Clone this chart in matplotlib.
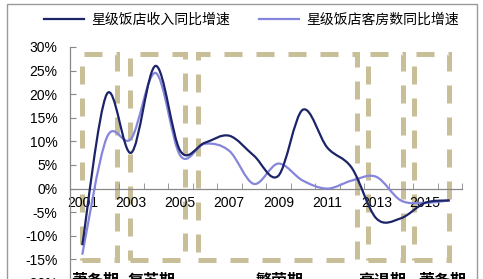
import numpy as np
import matplotlib
matplotlib.use('Agg')
import matplotlib.pyplot as plt
from matplotlib.path import Path
from matplotlib.patches import PathPatch, Rectangle

# data (yoy growth, %)
years = ['2001', '2002', '2003', '2004', '2005', '2006', '2007', '2008',
         '2009', '2010', '2011', '2012', '2013', '2014', '2015', '2016']
revenue = [-12, 20, 7.6, 26, 8, 9.7, 11.2, 7, 2.7, 16.7, 8.7, 4.4, -6.3, -6.3, -3, -2.5]
rooms = [-14, 10.8, 10.6, 24.5, 7, 9.5, 8, 1, 5.3, 1.7, 0, 1.7, 2.5, -2.5, -3, -2.5]
series_names = ['星级饭店收入同比增速', '星级饭店客房数同比增速']
phases = ['萧条期', '复苏期', '繁荣期', '衰退期', '萧条期']

# phase boxes: (x0, x1) in category units
boxes = [(0.0, 1.42), (1.95, 4.19), (4.72, 11.2), (11.66, 13.1), (13.54, 14.97)]
box_y = (-15.2, 28.5)
phase_x = [0.52, 2.83, 8.07, 12.25, 14.7]

cjk = ['Noto Sans CJK SC', 'DejaVu Sans']
plt.rcParams['font.family'] = ['Liberation Sans', 'DejaVu Sans']


def smooth_path(xs, ys):
    # catmull-rom -> cubic bezier, like Excel smoothed lines
    pts = np.column_stack([xs, ys]).astype(float)
    n = len(pts)
    verts = [pts[0]]
    codes = [Path.MOVETO]
    for i in range(n - 1):
        p0 = pts[i - 1] if i > 0 else pts[i]
        p1 = pts[i]
        p2 = pts[i + 1]
        p3 = pts[i + 2] if i + 2 < n else pts[i + 1]
        c1 = p1 + (p2 - p0) / 6.0
        c2 = p2 - (p3 - p1) / 6.0
        verts += [c1, c2, p2]
        codes += [Path.CURVE4] * 3
    return Path(verts, codes)


fig = plt.figure(figsize=(4.83, 2.79), dpi=100)
ax = fig.add_axes([70 / 483, 1 - 283 / 279, 392 / 483, 236 / 279])
ax.set_clip_on(False)

x = np.arange(len(years))
c_dark = '#1b2468'
c_light = '#8585dc'

# phase boxes
for x0, x1 in boxes:
    r = Rectangle((x0, box_y[0]), x1 - x0, box_y[1] - box_y[0], fill=False,
                  edgecolor='#c8bf99', lw=3.6, linestyle=(0, (3.6, 2.8)), zorder=1)
    ax.add_patch(r)

ax.add_patch(PathPatch(smooth_path(x, rooms), fill=False, edgecolor=c_light, lw=1.6, zorder=3))
ax.add_patch(PathPatch(smooth_path(x, revenue), fill=False, edgecolor=c_dark, lw=1.6, zorder=4))
# legend handles
ax.plot([], [], color=c_dark, lw=1.6, label=series_names[0])
ax.plot([], [], color=c_light, lw=1.6, label=series_names[1])

ax.set_xlim(-0.5, len(years) - 0.5)
ax.set_ylim(-20, 30)
ax.set_yticks(np.arange(-20, 31, 5))
ax.set_yticklabels([f'{v}%' for v in range(-20, 31, 5)], fontsize=10)
ax.tick_params(axis='y', direction='in', length=4, pad=9, color='#888888')

ax.set_xticks(x[::2])
ax.set_xticklabels(years[::2], fontsize=10)
ax.set_xticks(np.arange(-0.5, len(years), 1), minor=True)
ax.tick_params(axis='x', which='major', length=0, pad=5)
ax.tick_params(axis='x', which='minor', direction='in', length=4, color='#888888')

ax.spines['top'].set_visible(False)
ax.spines['right'].set_visible(False)
ax.spines['bottom'].set_position(('data', 0))
for s in ['left', 'bottom']:
    ax.spines[s].set_color('#888888')
    ax.spines[s].set_linewidth(0.9)

for px, name in zip(phase_x, phases):
    ax.text(px, -17.8, name, ha='center', va='top', fontsize=11.5,
            fontweight='bold', family=cjk, clip_on=False)

leg = fig.legend(loc='center', bbox_to_anchor=(0.52, 1 - 20 / 279), ncol=2,
                 frameon=False, prop={'family': cjk, 'size': 10},
                 handlelength=2.9, handletextpad=0.5, columnspacing=2.1)

fig.add_artist(Rectangle((7 / 483, -0.1), 470 / 483, 1.1 - 4 / 279,
                         transform=fig.transFigure, fill=False,
                         edgecolor='#999999', lw=1))

fig.savefig('out.png', dpi=100)
